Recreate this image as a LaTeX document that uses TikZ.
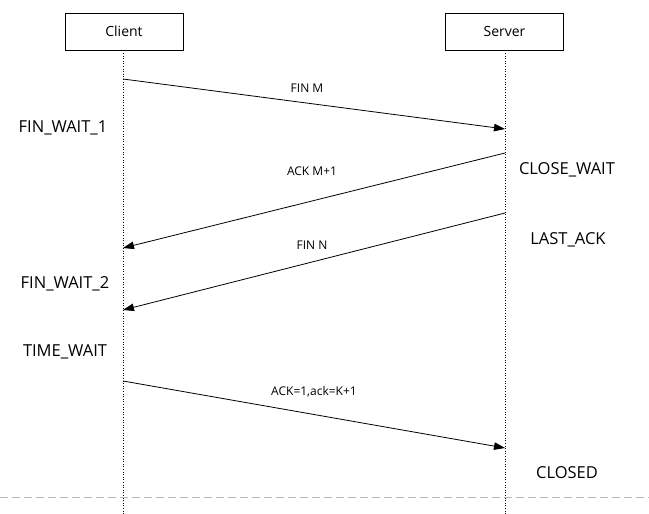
\documentclass[tikz,border=0pt]{standalone}
\usepackage{fontspec}
\setmainfont{Open Sans}
\usetikzlibrary{arrows.meta}
\begin{document}
\begin{tikzpicture}[x=1pt,y=-1pt,
    party/.style={draw,line width=0.7pt,minimum width=118pt,minimum height=37pt,font=\fontsize{14}{16}\selectfont},
    state/.style={font=\fontsize{16.5}{18}\selectfont},
    msg/.style={line width=0.8pt,-{Triangle[length=11pt,width=7.5pt]}},
    msglabel/.style={font=\fontsize{12}{14}\selectfont}]
        \useasboundingbox (0,0) rectangle (649,514);

        \node[party] (client) at (124,31.5) {Client};
        \node[party] (server) at (504.5,31.5) {Server};

        % lifelines
        \coordinate (cend) at (123,514);
        \coordinate (send) at (505,514);
        \draw[dotted,line width=0.6pt] (client.south -| cend) -- (cend);
        \draw[dotted,line width=0.6pt] (server.south -| send) -- (send);

        \draw[gray!55,dash pattern=on 8pt off 4pt] (0,497) -- (649,497);

        % messages
        \coordinate (c1) at (123,79);
        \coordinate (s1) at (505,129);
        \coordinate (s2) at (505,153);
        \coordinate (c2) at (123,248);
        \coordinate (s3) at (505,213);
        \coordinate (c3) at (123,310);
        \coordinate (c4) at (123,381);
        \coordinate (s4) at (505,448);

        \draw[msg] (c1) -- (s1);
        \draw[msg] (s2) -- (c2);
        \draw[msg] (s3) -- (c3);
        \draw[msg] (c4) -- (s4);

        \node[msglabel] (fin1) at (307,88) {FIN M};
        \node[msglabel] (ack1) at (312,171) {ACK M+1};
        \node[msglabel] (fin2) at (312,245) {FIN N};
        \node[msglabel] (ack2) at (314,392) {ACK=1,ack=K+1};

        % states
        \node[state] (fw1) at (63,128) {FIN\_WAIT\_1};
        \node[state] (cw) at (567,170) {CLOSE\_WAIT};
        \node[state] (la) at (568,240) {LAST\_ACK};
        \node[state] (fw2) at (65,284) {FIN\_WAIT\_2};
        \node[state] (tw) at (65,352) {TIME\_WAIT};
        \node[state] (cl) at (567,473) {CLOSED};
    \end{tikzpicture}
\end{document}
